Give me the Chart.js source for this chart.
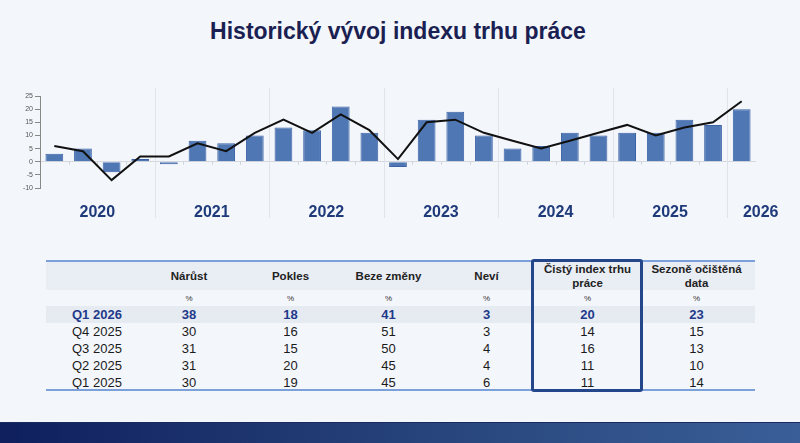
<!DOCTYPE html>
<html lang="cs">
<head>
<meta charset="utf-8">
<title>Historický vývoj indexu trhu práce</title>
<script src="https://cdn.jsdelivr.net/npm/chart.js@4.4.1/dist/chart.umd.min.js"></script>
<style>
  html, body { margin: 0; padding: 0; }
  body {
    width: 800px; height: 443px; position: relative; overflow: hidden;
    background: #f3f6fb;
    font-family: "Liberation Sans", Arial, sans-serif;
  }
  h1 {
    position: absolute; left: 0; top: 20px; width: 796px; margin: 0;
    text-align: center; font-size: 23px; line-height: 23px; font-weight: bold;
    color: #1a2152;
  }
  #chartBox { position: absolute; left: 0; top: 0; width: 800px; height: 230px; }
  table {
    position: absolute; left: 46px; top: 262px; width: 709px;
    border-collapse: collapse; table-layout: fixed;
    color: #1b1b1b;
  }
  td, th { padding: 0; text-align: center; vertical-align: middle; }
  thead tr.head th { height: 27px; background: #e9edf4; font-size: 11.5px; line-height: 14px; font-weight: bold; color: #222; }
  thead tr.unit td { height: 16px; font-size: 8px; color: #333; }
  tbody td { height: 17px; font-size: 13px; }
  tbody td:first-child { text-align: left; padding-left: 26px; }
  tbody tr.current td { background: #e6eaf1; font-weight: bold; color: #1f3a8a; }
  .rule { position: absolute; left: 46px; width: 709px; height: 2px; background: #7ba0da; }
  #highlight {
    position: absolute; left: 531px; top: 259px; width: 106px; height: 127px;
    border: 3px solid #24468a; border-radius: 3px;
  }
  #footer {
    position: absolute; left: 0; top: 422px; width: 800px; height: 21px;
    background: linear-gradient(to right, #0f1f5e 0%, #26427a 50%, #3a5f98 100%);
    border-top: 1px solid #1a2a60;
  }
</style>
</head>
<body>
<h1>Historický vývoj indexu trhu práce</h1>
<div id="chartBox"><canvas id="indexChart" width="800" height="230"></canvas></div>

<table id="summary">
  <colgroup>
    <col style="width:92px"><col style="width:102px"><col style="width:101px"><col style="width:95px">
    <col style="width:101px"><col style="width:101px"><col style="width:117px">
  </colgroup>
  <thead>
    <tr class="head" id="headRow"></tr>
    <tr class="unit" id="unitRow"></tr>
  </thead>
  <tbody id="bodyRows"></tbody>
</table>
<div class="rule" style="top:260px"></div>
<div class="rule" style="top:389px"></div>
<div id="highlight"></div>
<div id="footer"></div>

<script>
// quarters shown in the chart
var quarters = [
  '2020 Q1', '2020 Q2', '2020 Q3', '2020 Q4',
  '2021 Q1', '2021 Q2', '2021 Q3', '2021 Q4',
  '2022 Q1', '2022 Q2', '2022 Q3', '2022 Q4',
  '2023 Q1', '2023 Q2', '2023 Q3', '2023 Q4',
  '2024 Q1', '2024 Q2', '2024 Q3', '2024 Q4',
  '2025 Q1', '2025 Q2', '2025 Q3', '2025 Q4',
  '2026 Q1'
];
// net labour market index (bars)
var netIndex = [3, 5, -4, 1, -1, 8, 7, 10, 13, 12, 21, 11, -2, 16, 19, 10, 5, 6, 11, 10, 11, 11, 16, 14, 20];
// seasonally adjusted (line)
var seasonal = [6, 4, -7, 2, 2, 7, 4, 11, 16, 11, 18, 12, 1, 15, 16, 11, 8, 5, 8, 11, 14, 10, 13, 15, 23];

// table
var columns = ['Nárůst', 'Pokles', 'Beze změny', 'Neví', 'Čistý index trhu<br>práce', 'Sezoně očištěná<br>data'];
var rowLabels = ['Q1 2026', 'Q4 2025', 'Q3 2025', 'Q2 2025', 'Q1 2025'];
var narust = [38, 30, 31, 31, 30];
var pokles = [18, 16, 15, 20, 19];
var bezeZmeny = [41, 51, 50, 45, 45];
var nevi = [3, 3, 4, 4, 6];
var cistyIndex = [20, 14, 16, 11, 11];
var sezonne = [23, 15, 13, 10, 14];

// build table
var head = '<th></th>', unit = '<td></td>';
columns.forEach(function(c) { head += '<th>' + c + '</th>'; unit += '<td>%</td>'; });
document.getElementById('headRow').innerHTML = head;
document.getElementById('unitRow').innerHTML = unit;
var body = '';
rowLabels.forEach(function(r, i) {
  body += '<tr' + (i === 0 ? ' class="current"' : '') + '><td>' + r + '</td>' +
    [narust[i], pokles[i], bezeZmeny[i], nevi[i], cistyIndex[i], sezonne[i]].map(function(v) {
      return '<td>' + v + '</td>';
    }).join('') + '</tr>';
});
document.getElementById('bodyRows').innerHTML = body;

// year dividers + year labels under the chart
var yearPlugin = {
  id: 'years',
  beforeDatasetsDraw: function(chart) {
    var ctx = chart.ctx, x = chart.scales.x, y = chart.scales.y;
    var labels = chart.data.labels;
    var zero = y.getPixelForValue(0);
    ctx.save();
    // small ticks along the zero line
    ctx.strokeStyle = '#cfd3da';
    ctx.lineWidth = 1;
    for (var i = 1; i < labels.length; i++) {
      var b = (x.getPixelForValue(i - 1) + x.getPixelForValue(i)) / 2;
      ctx.beginPath();
      ctx.moveTo(Math.round(b) + 0.5, zero);
      ctx.lineTo(Math.round(b) + 0.5, zero + 3);
      ctx.stroke();
    }
    // dividers between years
    ctx.strokeStyle = '#e0e3e9';
    for (var j = 1; j < labels.length; j++) {
      if (labels[j].slice(0, 4) !== labels[j - 1].slice(0, 4)) {
        var d = (x.getPixelForValue(j - 1) + x.getPixelForValue(j)) / 2;
        ctx.beginPath();
        ctx.moveTo(Math.round(d) + 0.5, 88);
        ctx.lineTo(Math.round(d) + 0.5, 218);
        ctx.stroke();
      }
    }
    ctx.restore();
  },
  afterDraw: function(chart) {
    var ctx = chart.ctx, x = chart.scales.x;
    var labels = chart.data.labels;
    var groups = [];
    labels.forEach(function(l, i) {
      var yr = l.slice(0, 4);
      var g = groups[groups.length - 1];
      if (!g || g.year !== yr) { g = { year: yr, first: i, last: i }; groups.push(g); }
      g.last = i;
    });
    ctx.save();
    ctx.font = 'bold 16px "Liberation Sans", Arial, sans-serif';
    ctx.fillStyle = '#1f3a7a';
    ctx.textAlign = 'center';
    ctx.textBaseline = 'alphabetic';
    groups.forEach(function(g) {
      var cx = (x.getPixelForValue(g.first) + x.getPixelForValue(g.last)) / 2;
      if (g.first === g.last) cx += 19;
      ctx.fillText(g.year, cx, 217);
    });
    ctx.restore();
  }
};

var chart = new Chart(document.getElementById('indexChart').getContext('2d'), {
  type: 'bar',
  data: {
    labels: quarters,
    datasets: [{
      type: 'line',
      label: 'Sezoně očištěná data',
      data: seasonal,
      borderColor: '#111111',
      borderWidth: 2,
      pointRadius: 0,
      tension: 0,
      fill: false
    }, {
      label: 'Čistý index trhu práce',
      data: netIndex,
      backgroundColor: '#4e77b3',
      borderColor: '#3c62a6',
      borderWidth: 1,
      categoryPercentage: 1,
      barPercentage: 0.62
    }]
  },
  options: {
    responsive: false,
    animation: false,
    layout: { padding: { top: 96, bottom: 42, left: 0, right: 44 } },
    plugins: { legend: { display: false }, tooltip: { enabled: false } },
    scales: {
      x: { display: false, offset: true },
      y: {
        min: -10, max: 25,
        afterFit: function(scale) { scale.width = 40; },
        ticks: {
          stepSize: 5, padding: 2, color: '#555',
          font: { size: 7, family: '"Liberation Sans", Arial, sans-serif' }
        },
        grid: {
          color: function(c) { return c.tick && c.tick.value === 0 ? '#d5d8de' : 'rgba(0,0,0,0)'; },
          tickColor: '#888', tickLength: 5
        },
        border: { display: true, color: '#888' }
      }
    }
  },
  plugins: [yearPlugin]
});
</script>
</body>
</html>
